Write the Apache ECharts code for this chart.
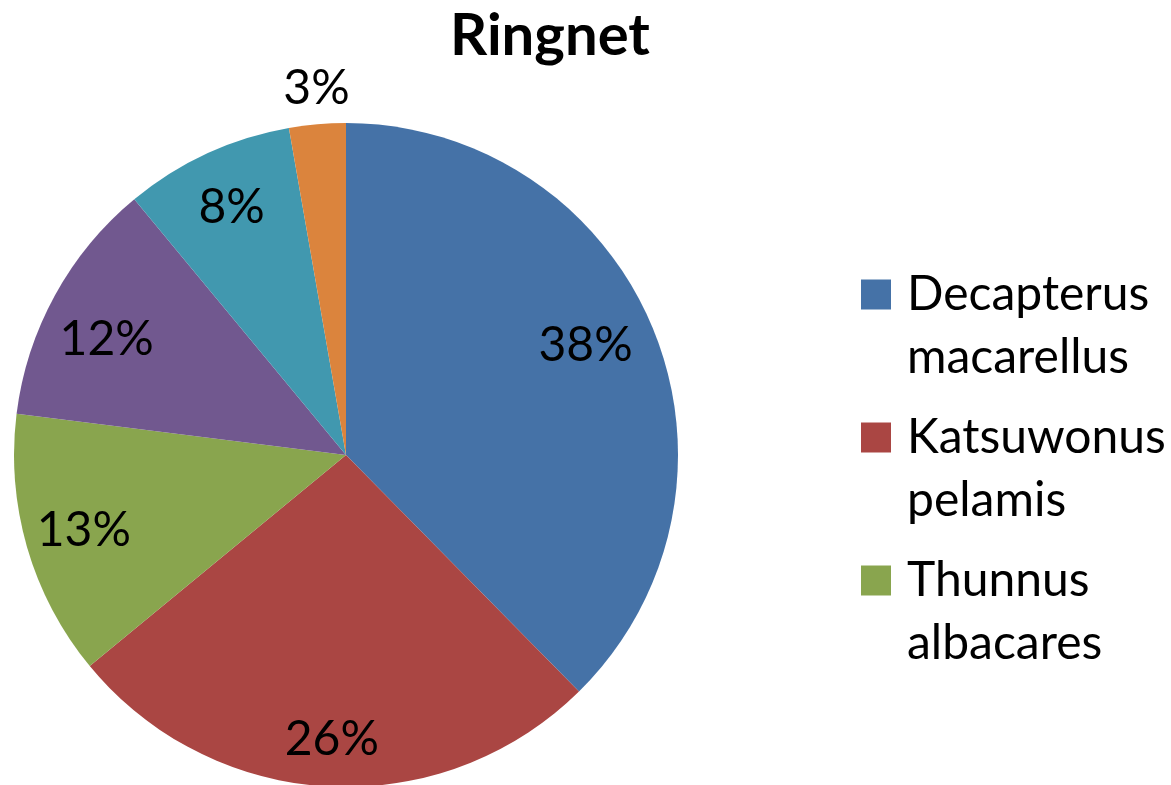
<!DOCTYPE html>
<html>
<head>
<meta charset="utf-8">
<title>Ringnet</title>
<script src="https://cdn.jsdelivr.net/npm/echarts@6/dist/echarts.min.js"></script>
<style>
  html, body { margin: 0; padding: 0; background: #fff; }
  #chart { width: 1171px; height: 785px; }
</style>
</head>
<body>
<div id="chart"></div>
<script>
// data (share of catch, %)
var species = ['Decapterus macarellus', 'Katsuwonus pelamis', 'Thunnus albacares', 'Other 4', 'Other 5', 'Other 6'];
var shares = [37.6, 26.4, 12.95, 12.0, 8.25, 2.75];
var legendNames = ['Decapterus macarellus', 'Katsuwonus pelamis', 'Thunnus albacares'];
var colors = ['#4572A7', '#AA4643', '#89A54E', '#71588F', '#4198AF', '#DB843D'];

var FONT = 'Lato';
var CX = 346, CY = 455, R = 332;

var chartDom = document.getElementById('chart');
var myChart = echarts.init(chartDom, null, { renderer: 'canvas' });

function pctLabel(p) {
  return Math.round(p.percent) + '%';
}

// labels of the small last slice sit outside the pie
var lastIdx = shares.length - 1;

// small nudges so the labels sit like Excel's "best fit" ones
function nudge(params) {
  var i = params.dataIndex;
  if (i === 0) return { dx: -13, dy: -6 };
  if (i === 1) return { dy: 12 };
  if (i === 3) return { dy: 16 };
  return {};
}

var option = {
  animation: false,
  color: colors,
  title: {
    text: 'Ringnet',
    left: 445,
    top: 2,
    textStyle: { fontFamily: FONT, fontSize: 58, fontWeight: 'bold', color: '#000' }
  },
  legend: {
    orient: 'vertical',
    left: 856,
    top: 195,
    data: legendNames,
    icon: 'rect',
    itemWidth: 30,
    itemHeight: 30,
    itemGap: -46,
    selectedMode: false,
    // blank first line keeps the first word level with the colour box
    formatter: function (name) {
      return '\u00a0\n' + name.replace(' ', '\n');
    },
    textStyle: {
      fontFamily: FONT,
      fontSize: 48,
      lineHeight: 63,
      color: '#000',
      padding: [0, 0, 0, 11]
    }
  },
  series: [
    {
      // the pie itself
      type: 'pie',
      center: [CX, CY],
      radius: [0, R],
      startAngle: 90,
      clockwise: true,
      silent: true,
      label: { show: false },
      labelLine: { show: false },
      itemStyle: { borderWidth: 0 },
      data: species.map(function (n, i) {
        return { name: n, value: shares[i] };
      })
    },
    {
      // transparent ring, only to place the inner labels near the rim
      type: 'pie',
      center: [CX, CY],
      radius: [208, R],
      startAngle: 90,
      silent: true,
      itemStyle: { color: 'rgba(0,0,0,0)' },
      label: {
        show: true,
        position: 'inside',
        formatter: pctLabel,
        fontFamily: FONT,
        fontSize: 48,
        color: '#000'
      },
      labelLine: { show: false },
      labelLayout: nudge,
      data: shares.map(function (v, i) {
        return { value: v, label: { show: i !== lastIdx } };
      })
    },
    {
      // transparent ring outside the pie for the 3% label
      type: 'pie',
      center: [CX, CY],
      radius: [R, 392],
      startAngle: 90,
      silent: true,
      itemStyle: { color: 'rgba(0,0,0,0)' },
      label: {
        show: true,
        position: 'inside',
        formatter: pctLabel,
        fontFamily: FONT,
        fontSize: 48,
        color: '#000'
      },
      labelLine: { show: false },
      labelLayout: function () { return { dx: 2, dy: -3 }; },
      data: shares.map(function (v, i) {
        return { value: v, label: { show: i === lastIdx } };
      })
    }
  ]
};

myChart.setOption(option);
</script>
</body>
</html>
